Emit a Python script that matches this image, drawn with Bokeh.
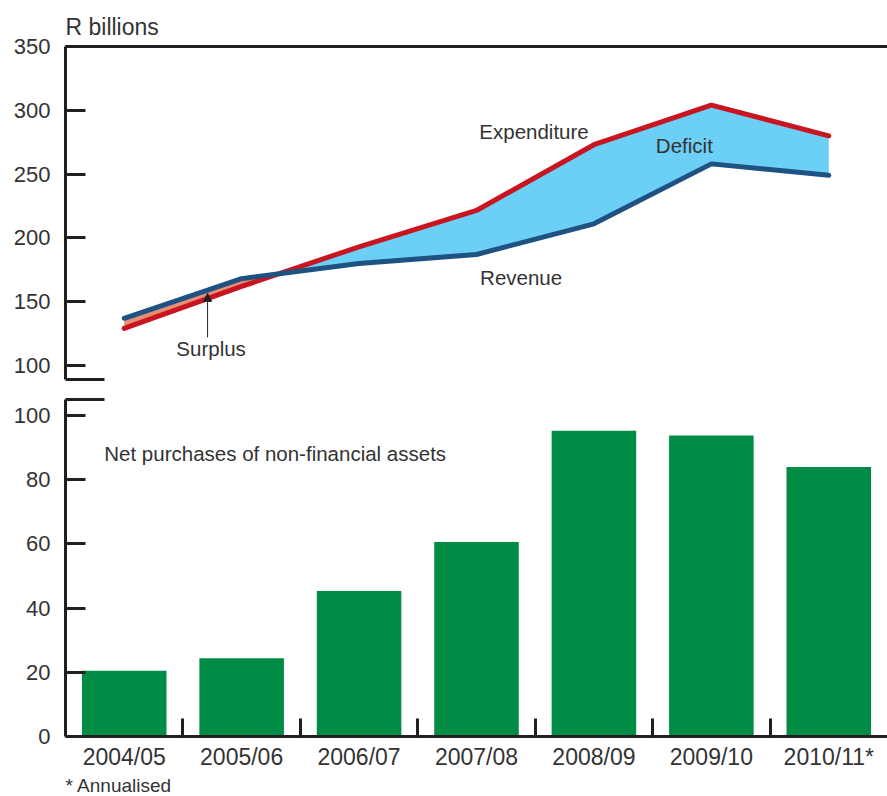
from bokeh.plotting import figure
from bokeh.models import (Range1d, LinearAxis, FixedTicker, Label, Arrow, NormalHead, Title)
from bokeh.layouts import column
from bokeh.embed import file_html
from bokeh.resources import INLINE

# ---- data ----
categories = ["2004/05", "2005/06", "2006/07", "2007/08", "2008/09", "2009/10", "2010/11*"]
revenue = [137, 168, 180, 187, 211, 258, 249]
expenditure = [129, 162, 193, 221.5, 273, 304, 280]
net_purchases = [20.5, 24.4, 45.3, 60.6, 95.3, 93.8, 84.0]
top_ticks = [100, 150, 200, 250, 300, 350]
bottom_ticks = [0, 20, 40, 60, 80, 100]

FONT = "Liberation Sans"
TXT = "#333333"
AX = "#231F20"
RED = "#C8151F"
BLUE = "#1D5282"
SURPLUS = "#E38F76"
DEFICIT = "#6BCFF6"
GREEN = "#008C44"

n = len(categories)
xs = [i + 0.5 for i in range(n)]

# fill polygons with crossing points inserted
fx, fr, fe = [], [], []
for i in range(n):
    fx.append(xs[i]); fr.append(revenue[i]); fe.append(expenditure[i])
    if i < n - 1:
        d0 = revenue[i] - expenditure[i]
        d1 = revenue[i + 1] - expenditure[i + 1]
        if d0 * d1 < 0:
            t = d0 / (d0 - d1)
            xc = xs[i] + t * (xs[i + 1] - xs[i])
            yc = revenue[i] + t * (revenue[i + 1] - revenue[i])
            fx.append(xc); fr.append(yc); fe.append(yc)
fmax = [max(a, b) for a, b in zip(fr, fe)]


def style_axis(ax):
    ax.axis_line_width = 3
    ax.axis_line_color = AX
    ax.major_tick_line_width = 3
    ax.major_tick_line_color = AX
    ax.minor_tick_line_color = None
    ax.major_label_text_font = FONT
    ax.major_label_text_color = TXT


def blank_axis(ax):
    ax.axis_line_width = 3
    ax.axis_line_color = AX
    ax.major_tick_line_color = None
    ax.minor_tick_line_color = None
    ax.major_label_text_font_size = "0px"
    ax.major_label_standoff = 0


# ---- top panel ----
p1 = figure(width=887, height=389, x_range=Range1d(0, n), y_range=Range1d(89, 350),
            output_backend="svg", toolbar_location=None, x_axis_location="above",
            min_border_left=65, min_border_right=0, min_border_top=46, min_border_bottom=10)
p1.title.text = "R billions"
p1.title.text_font = FONT
p1.title.text_font_size = "23px"
p1.title.text_font_style = "normal"
p1.title.text_color = TXT
p1.title.align = "left"
p1.title.offset = 0
p1.title.standoff = 14
p1.outline_line_color = None
p1.grid.visible = False
p1.xaxis.ticker = []
blank_axis(p1.xaxis[0])
style_axis(p1.yaxis[0])
p1.yaxis.ticker = FixedTicker(ticks=top_ticks)
p1.yaxis.major_tick_in = 20
p1.yaxis.major_tick_out = 0
p1.yaxis.major_label_text_font_size = "22px"
p1.yaxis.major_label_standoff = 15
brk1 = LinearAxis(bounds=(0, 0.33), ticker=FixedTicker(ticks=[]))
blank_axis(brk1)
p1.add_layout(brk1, "below")

p1.varea(x=fx, y1=fe, y2=fmax, fill_color=SURPLUS)
p1.varea(x=fx, y1=fr, y2=fmax, fill_color=DEFICIT)
p1.line(xs, expenditure, line_color=RED, line_width=5, line_cap="round", line_join="round")
p1.line(xs, revenue, line_color=BLUE, line_width=5, line_cap="round", line_join="round")

for txt, x, y in [("Expenditure", 3.99, 283.5), ("Deficit", 5.27, 272.5),
                  ("Revenue", 3.88, 169), ("Surplus", 1.24, 113.5)]:
    p1.add_layout(Label(x=x, y=y, text=txt, text_font=FONT, text_font_size="20.5px",
                        text_color=TXT, text_align="center", text_baseline="middle"))
p1.add_layout(Arrow(end=NormalHead(size=8, fill_color=AX, line_color=AX),
                    x_start=1.21, y_start=122, x_end=1.21, y_end=156.5,
                    line_color=AX, line_width=1))

# ---- bottom panel ----
p2 = figure(width=887, height=407, x_range=p1.x_range, y_range=Range1d(0, 105),
            output_backend="svg", toolbar_location=None,
            min_border_left=65, min_border_right=0, min_border_top=10, min_border_bottom=60)
p2.outline_line_color = None
p2.grid.visible = False
style_axis(p2.yaxis[0])
p2.yaxis.ticker = FixedTicker(ticks=bottom_ticks)
p2.yaxis.major_tick_in = 20
p2.yaxis.major_tick_out = 0
p2.yaxis.major_label_text_font_size = "22px"
p2.yaxis.major_label_standoff = 15

xa = p2.xaxis[0]
style_axis(xa)
xa.ticker = FixedTicker(ticks=xs, minor_ticks=list(range(1, n)))
xa.major_label_overrides = {x: c for x, c in zip(xs, categories)}
xa.major_tick_in = 0
xa.major_tick_out = 0
xa.minor_tick_line_color = AX
xa.minor_tick_line_width = 3
xa.minor_tick_in = 18
xa.minor_tick_out = 0
xa.major_label_text_font_size = "23px"
xa.major_label_standoff = 7

brk2 = LinearAxis(bounds=(0, 0.33), ticker=FixedTicker(ticks=[]))
blank_axis(brk2)
p2.add_layout(brk2, "above")

p2.vbar(x=xs, top=net_purchases, width=0.72, fill_color=GREEN, line_color=None)
p2.add_layout(Label(x=0.33, y=88.1, text="Net purchases of non-financial assets",
                    text_font=FONT, text_font_size="20.5px", text_color=TXT,
                    text_align="left", text_baseline="middle"))
p2.add_layout(Title(text="* Annualised", align="left", text_font=FONT, text_font_size="19px",
                    text_font_style="normal", text_color=TXT, offset=0, standoff=0), "below")

layout = column(p1, p2, spacing=0)
open("out.html", "w").write(file_html(layout, INLINE))
